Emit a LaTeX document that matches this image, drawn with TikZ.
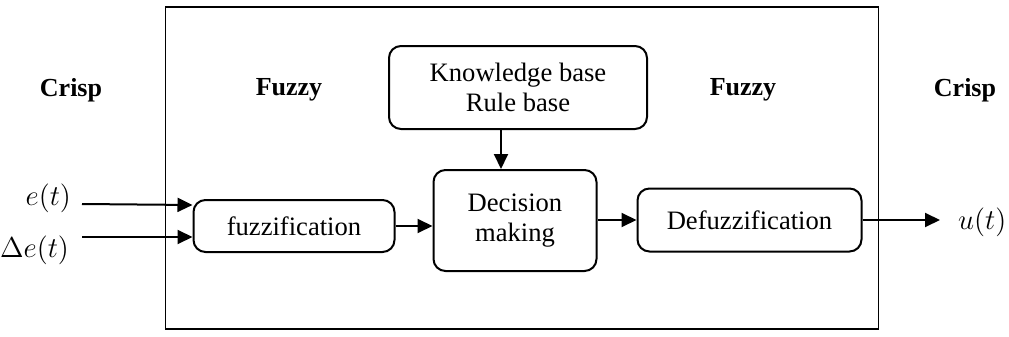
\documentclass[tikz,border=0pt]{standalone}
\usepackage{fontspec}
\setmainfont{Liberation Serif}
\usetikzlibrary{arrows.meta}
\begin{document}
\begin{tikzpicture}[x=0.5pt,y=-0.5pt,
  blk/.style={draw,line width=1pt,rounded corners=6pt,inner sep=0pt,align=center,font=\fontsize{13.3}{15.2}\selectfont},
  lab/.style={font=\fontsize{13}{15}\selectfont\bfseries},
  arr/.style={line width=1pt,-{Triangle[length=7.5pt,width=7pt]}},
  inp/.style={font=\fontsize{14.5}{17}\selectfont}]
\useasboundingbox (0,0) rectangle (1009,337);
\node[draw,line width=0.8pt,minimum width=713*0.5pt,minimum height=322*0.5pt,inner sep=0pt] (outer) at (522,168) {};
\node[blk,minimum width=258*0.5pt,minimum height=83*0.5pt] (kb) at (518,87.5) {Knowledge base\\Rule base};
\node[blk,minimum width=201*0.5pt,minimum height=52*0.5pt] (fz) at (294,226) {fuzzification};
\node[blk,minimum width=163*0.5pt,minimum height=101*0.5pt] (dm) at (515,220.5) {Decision\\making};
\node[blk,minimum width=224*0.5pt,minimum height=63*0.5pt] (df) at (749.5,220) {Defuzzification};
\node[lab] (c1) at (71,90) {Crisp};
\node[lab] (f1) at (289,90) {Fuzzy};
\node[lab] (f2) at (743,90) {Fuzzy};
\node[lab] (c2) at (965,90) {Crisp};
\node[inp,anchor=east] (e) at (78,198) {$e(t)$};
\node[inp,anchor=east] (de) at (76,250) {$\Delta e(t)$};
\node[inp,anchor=west] (u) at (951,222) {$u(t)$};
\coordinate (es) at (82,204);
\coordinate (ds) at (82,237);
\coordinate (ue) at (940,220);
\coordinate (kbs) at (501,129);
\draw[arr] (es) -- (fz.west |- 0,205);
\draw[arr] (ds) -- (fz.west |- 0,237);
\draw[arr] (fz.east) -- (dm.west |- fz.east);
\draw[arr] (kbs) -- (kbs |- dm.north);
\draw[arr] (dm.east |- df.west) -- (df.west);
\draw[arr] (df.east) -- (ue);
\end{tikzpicture}
\end{document}
